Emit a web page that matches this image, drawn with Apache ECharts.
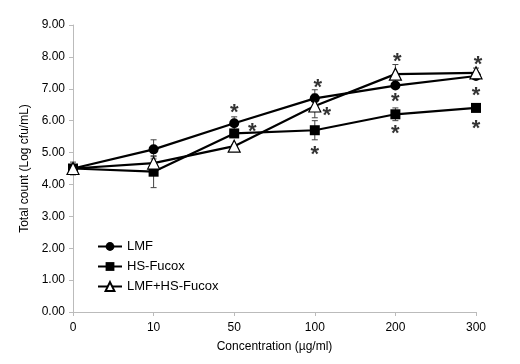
<!DOCTYPE html>
<html><head><meta charset="utf-8">
<script src="https://cdn.jsdelivr.net/npm/echarts@6/dist/echarts.min.js"></script>
<style>html,body{margin:0;padding:0;background:#fff}#c{width:520px;height:364px}</style>
</head><body><div id="c"></div>
<script>
var categories = ['0', '10', '50', '100', '200', '300'];
var yTicks = [0, 1, 2, 3, 4, 5, 6, 7, 8, 9];
var lmf = [4.5, 5.1, 5.92, 6.7, 7.1, 7.4];
var hsFucox = [4.5, 4.4, 5.6, 5.7, 6.2, 6.4];
var combo = [4.5, 4.67, 5.2, 6.46, 7.46, 7.5];
var lmfErr = [0.1, 0.3, 0.2, 0.27, 0.05, 0.1];
var hsErr = [0.1, 0.5, 0.05, 0.3, 0.2, 0.05];
var comboErr = [0.2, 0.2, 0.05, 0.37, 0.3, 0.15];
// significance asterisks: category index, value position, horizontal shift (px)
var astCat = [2, 2, 3, 3, 3, 4, 4, 4, 5, 5, 5];
var astVal = [6.39, 5.8, 7.18, 6.3, 5.08, 7.99, 6.74, 5.74, 7.9, 6.93, 5.89];
var astDx = [0, 18, 3, 12, 0, 2, 0, 0, 2, 0, 0];

var font = 'Liberation Sans, Arial, Helvetica, sans-serif';
function errData(vals, errs) {
  return vals.map(function (v, i) { return [i, v - errs[i], v + errs[i]]; });
}
function errSeries(vals, errs) {
  return {
    type: 'custom', silent: true, z: 1,
    renderItem: function (params, api) {
      var top = api.coord([api.value(0), api.value(2)]);
      var bot = api.coord([api.value(0), api.value(1)]);
      var w = 3;
      var st = { stroke: '#444', lineWidth: 1 };
      return { type: 'group', children: [
        { type: 'line', shape: { x1: top[0], y1: top[1], x2: bot[0], y2: bot[1] }, style: st },
        { type: 'line', shape: { x1: top[0] - w, y1: top[1], x2: top[0] + w, y2: top[1] }, style: st },
        { type: 'line', shape: { x1: bot[0] - w, y1: bot[1], x2: bot[0] + w, y2: bot[1] }, style: st }
      ]};
    },
    data: errData(vals, errs)
  };
}
var astData = astCat.map(function (c, i) {
  return { value: [c, astVal[i]], label: { offset: [astDx[i], 5] } };
});

var chart = echarts.init(document.getElementById('c'), null, { renderer: 'canvas' });
chart.setOption({
  animation: false,
  backgroundColor: '#fff',
  textStyle: { fontFamily: font },
  grid: { left: 73, right: 44, top: 25, bottom: 52 },
  legend: {
    orient: 'vertical', left: 92, top: 235, itemWidth: 24, itemHeight: 11, itemGap: 7,
    textStyle: { fontSize: 13, color: '#000', fontFamily: font },
    data: ['LMF', 'HS-Fucox', 'LMF+HS-Fucox']
  },
  xAxis: {
    type: 'category', data: categories, boundaryGap: false,
    name: 'Concentration (µg/ml)', nameLocation: 'middle', nameGap: 29,
    nameTextStyle: { fontSize: 12, color: '#000' },
    axisLine: { lineStyle: { color: '#bbb', width: 1 } },
    axisTick: { alignWithLabel: true, length: 4, lineStyle: { color: '#bbb' } },
    axisLabel: { fontSize: 12, color: '#000', margin: 10 },
    splitLine: { show: false }
  },
  yAxis: {
    type: 'value', min: yTicks[0], max: yTicks[yTicks.length - 1], interval: 1,
    name: 'Total count (Log cfu/mL)', nameLocation: 'middle', nameGap: 42,
    nameTextStyle: { fontSize: 12, color: '#000' },
    axisLine: { show: true, lineStyle: { color: '#bbb', width: 1 } },
    axisTick: { show: true, length: 4, lineStyle: { color: '#bbb' } },
    axisLabel: { fontSize: 12, color: '#000', margin: 8, formatter: function (v) { return v.toFixed(2); } },
    splitLine: { show: false }
  },
  series: [
    errSeries(lmf, lmfErr), errSeries(hsFucox, hsErr), errSeries(combo, comboErr),
    { name: 'LMF', type: 'line', data: lmf, symbol: 'circle', symbolSize: 10, z: 3,
      lineStyle: { color: '#000', width: 2.2 }, itemStyle: { color: '#000' } },
    { name: 'HS-Fucox', type: 'line', data: hsFucox, symbol: 'rect', symbolSize: 10, z: 3,
      lineStyle: { color: '#000', width: 2.2 }, itemStyle: { color: '#000' } },
    { name: 'LMF+HS-Fucox', type: 'line', data: combo, symbol: 'triangle', symbolSize: 12, z: 4,
      lineStyle: { color: '#000', width: 2.2 }, itemStyle: { color: '#fff', borderColor: '#000', borderWidth: 1.2 } },
    { type: 'scatter', silent: true, symbolSize: 0, z: 5, data: astData,
      label: { show: true, formatter: '*', position: 'inside', fontSize: 22, fontWeight: 'bold', color: '#000', fontFamily: font } }
  ]
});
</script></body></html>
